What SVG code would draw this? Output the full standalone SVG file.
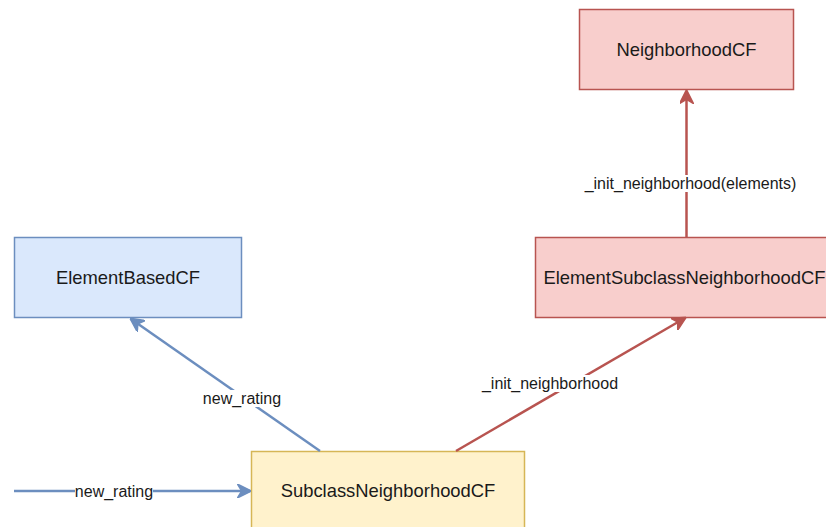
<svg xmlns="http://www.w3.org/2000/svg" width="826" height="527" viewBox="0 0 826 527">
  <style>
    .node text { font-family: "Liberation Sans", Arial, sans-serif; font-size: 18.4px; fill: #1a1a1a; text-anchor: middle; }
    .lbl { font-family: "Liberation Sans", Arial, sans-serif; font-size: 16px; fill: #1a1a1a; text-anchor: middle; }
    .lblbg { fill: #ffffff; }
    .blue rect { fill: #dae8fc; stroke: #6c8ebf; stroke-width: 1.5; }
    .red rect { fill: #f8cecc; stroke: #b85450; stroke-width: 1.5; }
    .yellow rect { fill: #fff2cc; stroke: #d6b656; stroke-width: 1.5; }
    .eb { stroke: #6c8ebf; stroke-width: 2.5; fill: none; marker-end: url(#arrB); }
    .er { stroke: #b85450; stroke-width: 2.5; fill: none; marker-end: url(#arrR); }
  </style>
  <defs>
    <marker id="arrB" viewBox="0 0 10 10" refX="9" refY="5" markerWidth="14" markerHeight="14" markerUnits="userSpaceOnUse" orient="auto">
      <path d="M0,0 L10,5 L0,10 L3,5 z" fill="#6c8ebf" stroke="#6c8ebf"/>
    </marker>
    <marker id="arrR" viewBox="0 0 10 10" refX="9" refY="5" markerWidth="14" markerHeight="14" markerUnits="userSpaceOnUse" orient="auto">
      <path d="M0,0 L10,5 L0,10 L3,5 z" fill="#b85450" stroke="#b85450"/>
    </marker>
  </defs>
  <rect width="826" height="527" fill="#ffffff"/>

  <g id="NeighborhoodCF" class="node red">
    <rect x="579.5" y="9.5" width="214" height="80"/>
    <text x="686.5" y="49.5" dy="0.35em">NeighborhoodCF</text>
  </g>
  <g id="ElementSubclassNeighborhoodCF" class="node red">
    <rect x="535.5" y="237.5" width="298" height="80"/>
    <text x="684.5" y="277.5" dy="0.35em">ElementSubclassNeighborhoodCF</text>
  </g>
  <g id="ElementBasedCF" class="node blue">
    <rect x="14.5" y="237.5" width="227" height="80"/>
    <text x="128" y="277.5" dy="0.35em">ElementBasedCF</text>
  </g>
  <g id="SubclassNeighborhoodCF" class="node yellow">
    <rect x="251.5" y="451.5" width="273" height="80"/>
    <text x="388" y="491" dy="0.35em">SubclassNeighborhoodCF</text>
  </g>

  <g id="connectors">
    <line class="er" x1="686.5" y1="237" x2="686.5" y2="91"/>
    <rect class="lblbg" x="585" y="175" width="211" height="17"/>
    <text class="lbl" x="690.5" y="183.5" dy="0.35em">_init_neighborhood(elements)</text>

    <line class="er" x1="456" y1="451" x2="685" y2="318"/>
    <rect class="lblbg" x="482" y="375" width="136" height="17"/>
    <text class="lbl" x="550" y="383.5" dy="0.35em">_init_neighborhood</text>

    <line class="eb" x1="320" y1="451" x2="131" y2="319"/>
    <rect class="lblbg" x="203" y="390" width="78" height="17"/>
    <text class="lbl" x="242" y="398.5" dy="0.35em">new_rating</text>

    <line class="eb" x1="14" y1="491" x2="250" y2="491"/>
    <rect class="lblbg" x="75" y="483" width="78" height="17"/>
    <text class="lbl" x="114" y="491.5" dy="0.35em">new_rating</text>
  </g>
</svg>
